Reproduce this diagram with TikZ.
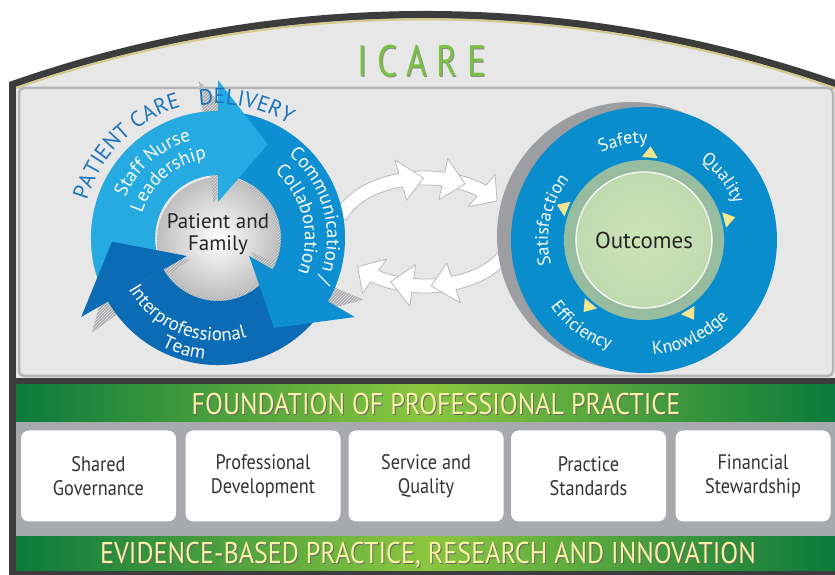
\documentclass[tikz,border=0pt]{standalone}
\usepackage{fontspec}
\setmainfont{PT Sans}
\newfontfamily\narrowfont[FakeStretch=0.87]{PT Sans}
\newfontfamily\titlefont[FakeStretch=0.8,LetterSpace=22]{PT Sans}
\usetikzlibrary{decorations.text,patterns}

\definecolor{framedark}{HTML}{3C3C3C}
\definecolor{khaki}{HTML}{D2C98F}
\definecolor{panelgray}{HTML}{E7E7E7}
\definecolor{paneledge}{HTML}{B4B5B8}
\definecolor{bandgray}{HTML}{A7A9AC}
\definecolor{bardark}{HTML}{0B7A3C}
\definecolor{barlight}{HTML}{8CC63F}
\definecolor{bartext}{HTML}{F8F2A4}
\definecolor{titlegreen}{HTML}{7AC143}
\definecolor{arcblue}{HTML}{1C75BC}
\definecolor{nurseblue}{HTML}{25AAE1}
\definecolor{commblue}{HTML}{0D8FD1}
\definecolor{teamblue}{HTML}{0B6BB5}
\definecolor{discblue}{HTML}{0A8DCD}
\definecolor{discgray}{HTML}{9C9EA1}
\definecolor{ringgreen}{HTML}{98BC9F}
\definecolor{coregreen}{HTML}{CDE4B6}
\definecolor{marker}{HTML}{F4E68C}
\definecolor{hatchgray}{HTML}{A9ABAE}

% pieces of the care cycle, all around (cyc)
\newcommand\bandpiece[2]{([shift={(#1:127)}]cyc) arc[start angle=#1, end angle=#2, radius=127]
  -- ([shift={(#2:63)}]cyc) arc[start angle=#2, end angle=#1, radius=63] -- cycle}
\newcommand\headpiece[1]{([shift={(#1:36)}]cyc) -- ([shift={(#1:158)}]cyc)
  -- ([shift={(#1-28:106)}]cyc) -- cycle}

\tikzset{
  pillar/.style={fill=white, rounded corners=8pt, minimum width=155pt, minimum height=91pt,
    align=center, text=black!80, font=\narrowfont\fontsize{21}{24}\selectfont},
  linkarrow/.style={fill=white, draw=gray!55, line width=0.8pt, line join=round},
  hatched/.style={fill=hatchgray, postaction={pattern=north east lines, pattern color=white!80!gray}},
  bartitle/.style={text=bartext, font=\narrowfont\fontsize{30}{30}\selectfont},
  barshade/.style={text=black!60, font=\narrowfont\fontsize{30}{30}\selectfont},
}

\begin{document}
\begin{tikzpicture}[x=1pt,y=1pt]
\useasboundingbox (0,0) rectangle (835,575);
\clip (0,0) rectangle (835,575);
\coordinate (hub) at (425,-690.3);

% outer frame with the arched top
\fill[framedark] (9,0) -- (9,493) arc[start angle=109.38, end angle=70.62, radius=1254] -- (841,0) -- cycle;
\begin{scope}
  \clip (16,197) rectangle (835,600);
  \fill[panelgray] (hub) circle[radius=1247];
  \draw[khaki, line width=2.2pt] (hub) circle[radius=1246];
\end{scope}
\node[text=black!45, font=\titlefont\fontsize{44}{44}\selectfont] (icareshade) at (423,513) {ICARE};
\node[text=titlegreen, font=\titlefont\fontsize{44}{44}\selectfont] (icare) at (422,514) {ICARE};

% main panel
\draw[paneledge, fill=panelgray, line width=2.5pt, rounded corners=5pt] (19,199) rectangle (833,487);

% foundation bars and pillars
\shade[left color=bardark, right color=bardark, middle color=barlight] (16,153) rectangle (835,190);
\fill[bandgray] (16,38) rectangle (835,153);
\shade[left color=bardark, right color=bardark, middle color=barlight] (16,4) rectangle (835,38);
\node[barshade] (foundshade) at (437,170) {FOUNDATION OF PROFESSIONAL PRACTICE};
\node[bartitle] (found) at (436,171) {FOUNDATION OF PROFESSIONAL PRACTICE};
\node[barshade] (evidshade) at (429,19) {EVIDENCE-BASED PRACTICE, RESEARCH AND INNOVATION};
\node[bartitle] (evid) at (428,20) {EVIDENCE-BASED PRACTICE, RESEARCH AND INNOVATION};

\foreach \x/\name/\txt in {98.5/gov/{Shared\\Governance}, 263/dev/{Professional\\Development},
    426/serv/{Service and\\Quality}, 588.5/std/{Practice\\Standards}, 753/fin/{Financial\\Stewardship}}
  \node[pillar] (\name) at (\x,99) {\txt};

% white arrows between the two wheels
\foreach \s/\h/\e in {71/50/35, 99/78/63, 165/106/91}
  \draw[linkarrow] plot[domain=\s:\h, samples=10] ({425+95*cos(\x)},{343+61*sin(\x)})
    -- ({425+109*cos(\h)},{343+75*sin(\h)}) -- ({425+88*cos(\e)},{343+54*sin(\e)})
    -- ({425+67*cos(\h)},{343+33*sin(\h)})
    -- plot[domain=\h:\s, samples=10] ({425+81*cos(\x)},{343+47*sin(\x)}) -- cycle;
\foreach \s/\h/\e in {-105/-125/-140, -78/-98/-113, -20/-71/-86}
  \draw[linkarrow] plot[domain=\s:\h, samples=10] ({425+95*cos(\x)},{343+61*sin(\x)})
    -- ({425+109*cos(\h)},{343+75*sin(\h)}) -- ({425+88*cos(\e)},{343+54*sin(\e)})
    -- ({425+67*cos(\h)},{343+33*sin(\h)})
    -- plot[domain=\h:\s, samples=10] ({425+81*cos(\x)},{343+47*sin(\x)}) -- cycle;

% care cycle
\coordinate (cyc) at (218,337);
\fill[hatched] ([shift={(3,-3)}]cyc) circle[radius=64];
\shade[inner color=white, outer color=gray!50] (cyc) circle[radius=60];
\begin{scope}[shift={(-4,4)}, rotate around={7:(cyc)}]
  \fill[hatched] \bandpiece{210}{90};
  \fill[hatched] \bandpiece{90}{-30};
  \fill[hatched] \bandpiece{-30}{-150};
  \fill[hatched] \headpiece{90};
  \fill[hatched] \headpiece{-30};
  \fill[hatched] \headpiece{210};
\end{scope}
\fill[nurseblue] \bandpiece{210}{90};
\fill[commblue] \bandpiece{90}{-30};
\fill[teamblue] \bandpiece{-30}{-150};
\fill[nurseblue] \headpiece{90};
\fill[commblue] \headpiece{-30};
\fill[teamblue] \headpiece{210};
\node[align=center, text=black!85, font=\fontsize{21}{22}\selectfont] (family) at ([yshift=4]cyc) {Patient and\\Family};

\path[decorate, decoration={text along path, text align=center,
  text={|\fontsize{22}{22}\selectfont\color{arcblue}|PATIENT CARE}}]
  ([shift={(172:136)}]cyc) arc[start angle=172, end angle=98, radius=136];
\path[decorate, decoration={text along path, text align=center,
  text={|\fontsize{22}{22}\selectfont\color{arcblue}|DELIVERY}}]
  ([shift={(104:134)}]cyc) arc[start angle=104, end angle=52, radius=134];
\path[decorate, decoration={text along path, text align=center,
  text={|\fontsize{19}{19}\selectfont\color{white}|Staff Nurse}}]
  ([shift={(174:101)}]cyc) arc[start angle=174, end angle=88, radius=101];
\path[decorate, decoration={text along path, text align=center,
  text={|\fontsize{19}{19}\selectfont\color{white}|Leadership}}]
  ([shift={(180:80)}]cyc) arc[start angle=180, end angle=80, radius=80];
\path[decorate, decoration={text along path, text align=center,
  text={|\fontsize{19}{19}\selectfont\color{white}|Communication /}}]
  ([shift={(64:109)}]cyc) arc[start angle=64, end angle=-38, radius=109];
\path[decorate, decoration={text along path, text align=center,
  text={|\fontsize{19}{19}\selectfont\color{white}|Collaboration}}]
  ([shift={(66:87)}]cyc) arc[start angle=66, end angle=-40, radius=87];
\path[decorate, decoration={text along path, text align=center,
  text={|\fontsize{19}{19}\selectfont\color{white}|Interprofessional}}]
  ([shift={(194:103)}]cyc) arc[start angle=194, end angle=302, radius=103];
\path[decorate, decoration={text along path, text align=center,
  text={|\fontsize{19}{19}\selectfont\color{white}|Team}}]
  ([shift={(222:122)}]cyc) arc[start angle=222, end angle=284, radius=122];

% outcomes wheel
\coordinate (out) at (644,335);
\fill[discgray] ([shift={(-13,4)}]out) circle[radius=134];
\fill[discblue] (out) circle[radius=133];
\fill[ringgreen] (out) circle[radius=80];
\shade[inner color=coregreen, outer color=coregreen!75!ringgreen] (out) circle[radius=68];
\draw[white, line width=1.2pt] (out) circle[radius=68];
\foreach \a in {86,14,-58,-130,158}
  \fill[marker] ([shift={(\a:94)}]out) -- ([shift={(\a+5.5:83)}]out) -- ([shift={(\a-5.5:83)}]out) -- cycle;
\node[text=black!85, font=\fontsize{23}{23}\selectfont] (outcomes) at (out) {Outcomes};

\path[decorate, decoration={text along path, text align=center,
  text={|\fontsize{18}{18}\selectfont\color{white}|Safety}}]
  ([shift={(134:97)}]out) arc[start angle=134, end angle=70, radius=97];
\path[decorate, decoration={text along path, text align=center,
  text={|\fontsize{18}{18}\selectfont\color{white}|Quality}}]
  ([shift={(72:97)}]out) arc[start angle=72, end angle=4, radius=97];
\path[decorate, decoration={text along path, text align=center,
  text={|\fontsize{18}{18}\selectfont\color{white}|Satisfaction}}]
  ([shift={(218:96)}]out) arc[start angle=218, end angle=118, radius=96];
\path[decorate, decoration={text along path, text align=center,
  text={|\fontsize{18}{18}\selectfont\color{white}|Knowledge}}]
  ([shift={(-108:115)}]out) arc[start angle=-108, end angle=-20, radius=115];
\path[decorate, decoration={text along path, text align=center,
  text={|\fontsize{18}{18}\selectfont\color{white}|Efficiency}}]
  ([shift={(-166:115)}]out) arc[start angle=-166, end angle=-86, radius=115];
\end{tikzpicture}
\end{document}
